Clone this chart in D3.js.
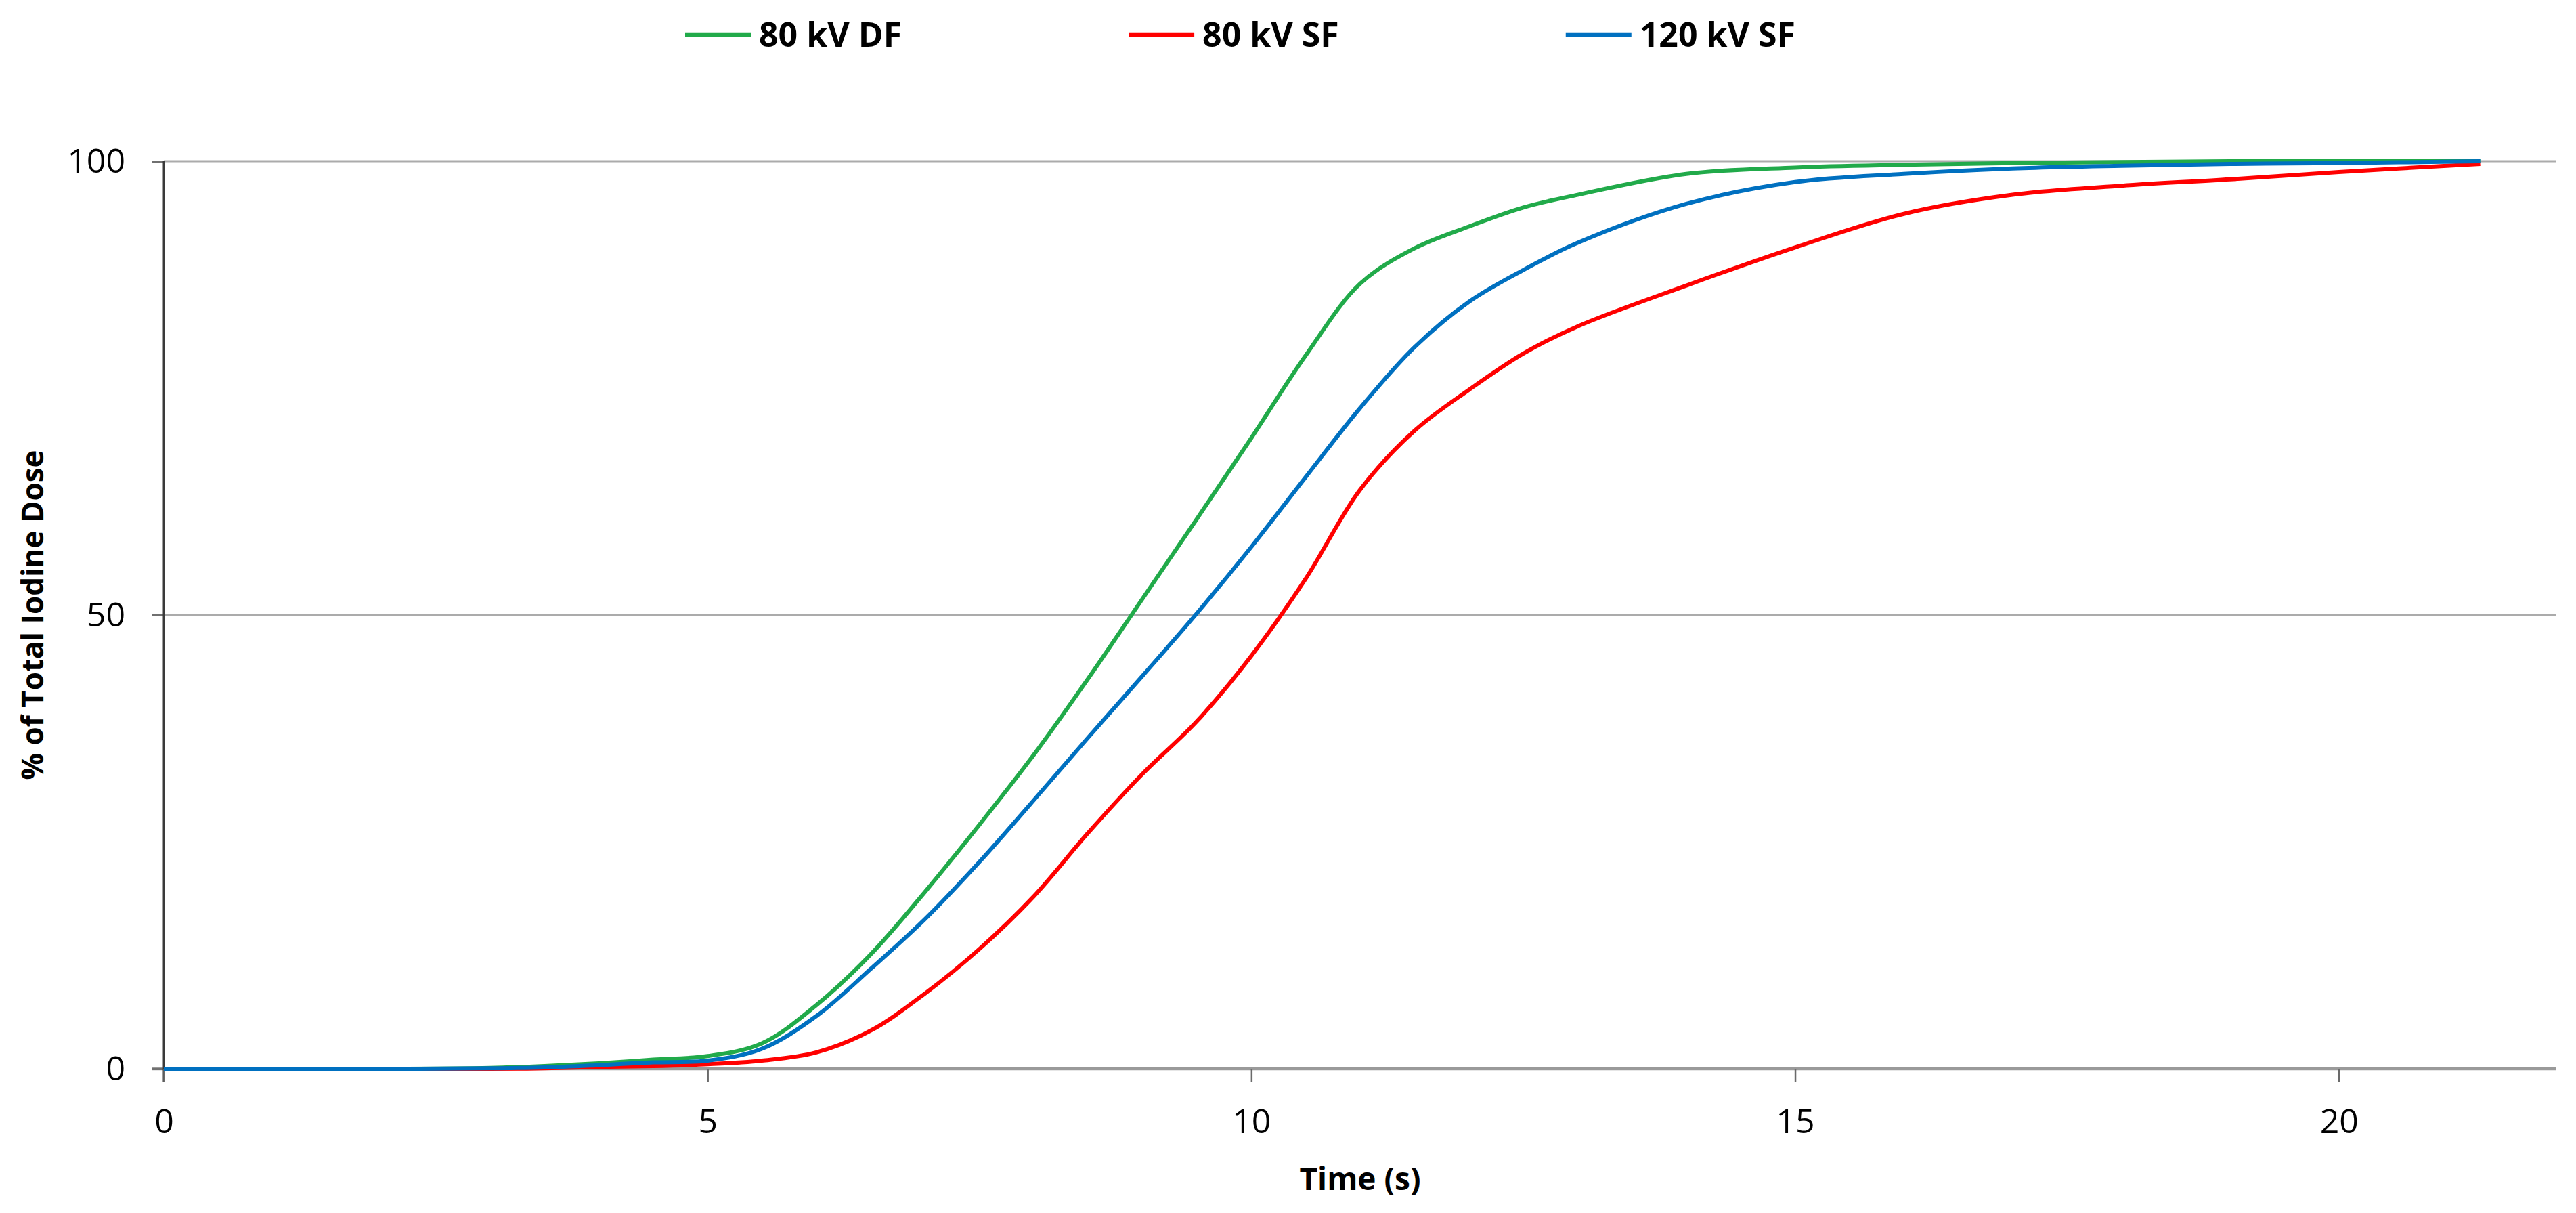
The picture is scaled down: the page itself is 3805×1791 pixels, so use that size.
<html>
<head>
	<title>Iodine dose</title>
	<meta charset="utf-8">
	<script src="https://d3js.org/d3.v7.min.js"></script>
	<style>
		body { margin: 0; background: #fff; }
		text { font-family: "Open Sans", "Liberation Sans", sans-serif; fill: #000; }
	</style>
</head>
<body>
	<script type="text/javascript">
		var width = 3805
		var height = 1791

		// data (time in s, % of total iodine dose)
		var times = [0, 1, 2, 3, 3.5, 4, 4.5, 5, 5.5, 6, 6.5, 7, 7.5, 8, 8.5, 9, 9.5, 10, 10.5, 11, 11.5, 12, 12.5, 13, 14, 15, 16, 17, 18, 19, 20, 21.3]
		var df80 = [0, 0, 0, 0.1, 0.3, 0.6, 1.0, 1.4, 2.8, 7.0, 12.6, 19.5, 26.9, 34.6, 43, 51.8, 60.6, 69.5, 78.6, 86.5, 90.4, 92.8, 94.9, 96.3, 98.6, 99.3, 99.6, 99.8, 99.9, 100, 100, 100]
		var sf80 = [0, 0, 0, 0, 0.05, 0.2, 0.3, 0.5, 0.9, 1.8, 4.2, 8.3, 13.2, 19, 26, 32.5, 38.3, 45.5, 54, 63.8, 70.3, 74.8, 78.8, 81.8, 86.3, 90.5, 94.2, 96.3, 97.3, 98.0, 98.8, 99.7]
		var sf120 = [0, 0, 0, 0.05, 0.15, 0.4, 0.7, 0.9, 2.2, 5.8, 11, 16.5, 22.8, 29.6, 36.5, 43.3, 50.2, 57.5, 65.2, 72.8, 79.5, 84.5, 88, 91, 95.3, 97.7, 98.6, 99.2, 99.5, 99.7, 99.8, 100]

		var seriesNames = ["80 kV DF", "80 kV SF", "120 kV SF"]
		var seriesValues = [df80, sf80, sf120]
		var seriesColors = ["#21AA4A", "#FF0000", "#0070C0"]

		var xTicks = [0, 5, 10, 15, 20]
		var yTicks = [0, 50, 100]

		var svg = d3.select("body").append("svg")
		  .attr("width", width)
		  .attr("height", height)

		var x = d3.scaleLinear().domain([0, 22]).range([242, 3776])
		var y = d3.scaleLinear().domain([0, 100]).range([1578, 238])

		// horizontal gridlines
		svg.selectAll(".grid")
		  .data(yTicks)
		  .enter()
		  .append("line")
		    .attr("x1", d => d == 0 ? 224 : 242)
		    .attr("x2", x.range()[1])
		    .attr("y1", d => y(d))
		    .attr("y2", d => y(d))
		    .attr("stroke", d => d == 0 ? "#9a9a9a" : "#ababab")
		    .attr("stroke-width", d => d == 0 ? 4.5 : 3)

		// y axis
		var yAxis = svg.append("g")
		  .attr("transform", "translate(242,0)")
		  .call(d3.axisLeft(y).tickValues(yTicks).tickSize(18).tickPadding(39))
		yAxis.select(".domain").remove()
		yAxis.selectAll(".tick line").attr("stroke", "#707070").attr("stroke-width", 3)
		yAxis.selectAll(".tick text").style("font-size", "50px").attr("font-family", null)

		svg.append("line")
		  .attr("x1", 242).attr("x2", 242)
		  .attr("y1", y(100)).attr("y2", y(0) + 19)
		  .attr("stroke", "#3a3a3a")
		  .attr("stroke-width", 3)

		// x axis
		var xAxis = svg.append("g")
		  .attr("transform", "translate(0," + y(0) + ")")
		  .call(d3.axisBottom(x).tickValues(xTicks).tickSize(19).tickPadding(40))
		xAxis.select(".domain").remove()
		xAxis.selectAll(".tick line").attr("stroke", "#6a6a6a").attr("stroke-width", 2.5)
		xAxis.selectAll(".tick text").style("font-size", "50px").attr("font-family", null)

		// series lines, smoothed like the spreadsheet lines
		var line = d3.line()
		  .x((d, i) => x(times[i]))
		  .y(d => y(d))
		  .curve(d3.curveCatmullRom.alpha(0.5))

		svg.selectAll(".series")
		  .data(seriesValues)
		  .enter()
		  .append("path")
		    .attr("d", d => line(d))
		    .attr("fill", "none")
		    .attr("stroke", (d, i) => seriesColors[i])
		    .attr("stroke-width", 6)
		    .attr("stroke-linejoin", "round")

		// axis titles
		svg.append("text")
		  .attr("x", (x(0) + x(22)) / 2)
		  .attr("y", 1757)
		  .attr("text-anchor", "middle")
		  .style("font-size", "46px")
		  .style("font-weight", "bold")
		  .text("Time (s)")

		svg.append("text")
		  .attr("transform", "translate(64," + ((y(0) + y(100)) / 2) + ") rotate(-90)")
		  .attr("text-anchor", "middle")
		  .style("font-size", "44px")
		  .style("font-weight", "bold")
		  .text("% of Total Iodine Dose")

		// legend
		var lx = 1012
		seriesNames.forEach(function(name, i) {
			svg.append("line")
			  .attr("x1", lx).attr("x2", lx + 97)
			  .attr("y1", 51).attr("y2", 51)
			  .attr("stroke", seriesColors[i])
			  .attr("stroke-width", 6.5)
			var t = svg.append("text")
			  .attr("x", lx + 109)
			  .attr("y", 69)
			  .style("font-size", "50px")
			  .style("font-weight", "bold")
			  .text(name)
			lx = lx + 109 + t.node().getComputedTextLength() + 335
		})
	</script>
</body>
</html>
